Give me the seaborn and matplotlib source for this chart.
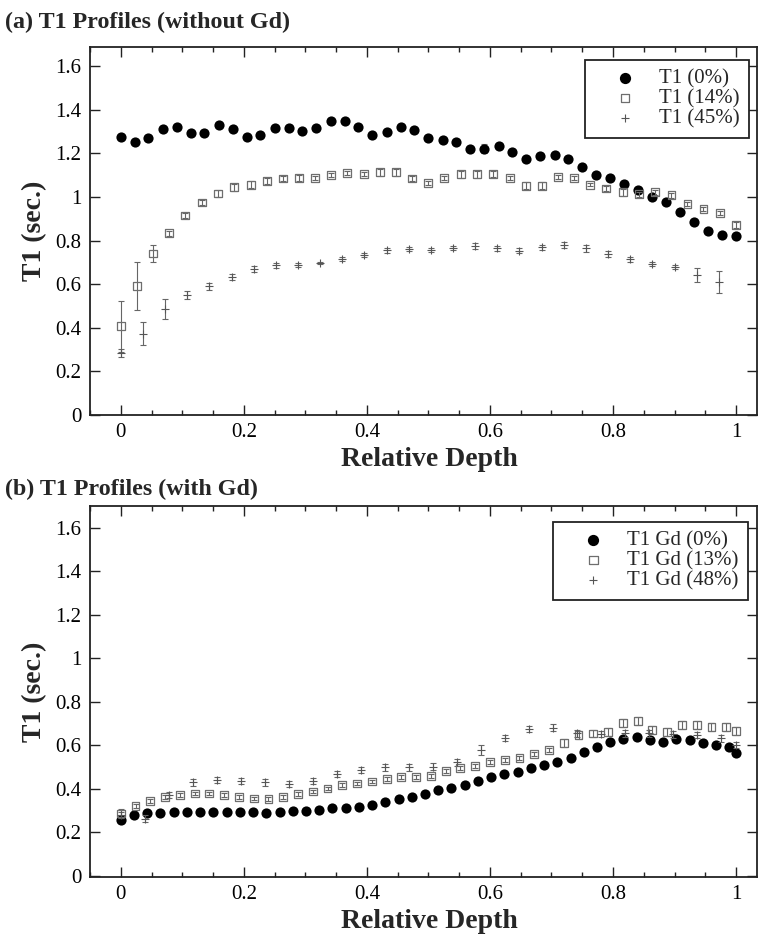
import numpy as np
import pandas as pd
import matplotlib
matplotlib.use("Agg")
import matplotlib.pyplot as plt
import seaborn as sns
from matplotlib.ticker import MultipleLocator

# ---------------- data: panel (a) without Gd ----------------
a0_depth = [0.0, 0.023, 0.045, 0.068, 0.091, 0.114, 0.136, 0.159, 0.182, 0.205, 0.227, 0.25,
            0.273, 0.295, 0.318, 0.341, 0.364, 0.386, 0.409, 0.432, 0.455, 0.477, 0.5, 0.523,
            0.545, 0.568, 0.591, 0.614, 0.636, 0.659, 0.682, 0.705, 0.727, 0.75, 0.773, 0.795,
            0.818, 0.841, 0.864, 0.886, 0.909, 0.932, 0.955, 0.977, 1.0]
a0_t1 = [1.274, 1.254, 1.269, 1.312, 1.320, 1.292, 1.295, 1.331, 1.311, 1.276, 1.286, 1.317,
         1.318, 1.302, 1.318, 1.349, 1.349, 1.323, 1.285, 1.297, 1.320, 1.308, 1.269, 1.263,
         1.254, 1.219, 1.222, 1.234, 1.208, 1.174, 1.186, 1.193, 1.174, 1.137, 1.102, 1.085,
         1.059, 1.031, 1.002, 0.976, 0.932, 0.883, 0.844, 0.827, 0.821]
a0_err = [0.005] * 26 + [0.022] + [0.005] * 18

a14_depth = [0.0, 0.026, 0.053, 0.079, 0.105, 0.132, 0.158, 0.184, 0.211, 0.237, 0.263, 0.289,
             0.316, 0.342, 0.368, 0.395, 0.421, 0.447, 0.474, 0.5, 0.526, 0.553, 0.579, 0.605,
             0.632, 0.658, 0.684, 0.711, 0.737, 0.763, 0.789, 0.816, 0.842, 0.868, 0.895, 0.921,
             0.947, 0.974, 1.0]
a14_t1 = [0.407, 0.591, 0.741, 0.833, 0.915, 0.975, 1.016, 1.044, 1.056, 1.073, 1.085, 1.087,
          1.088, 1.101, 1.110, 1.105, 1.114, 1.114, 1.085, 1.065, 1.088, 1.104, 1.104, 1.104,
          1.087, 1.051, 1.051, 1.093, 1.088, 1.056, 1.039, 1.021, 1.013, 1.021, 1.008, 0.967,
          0.944, 0.926, 0.872]
a14_err = [0.118, 0.111, 0.037, 0.012, 0.012, 0.012, 0.014, 0.016, 0.016, 0.013, 0.010, 0.013,
           0.008, 0.010, 0.010, 0.010, 0.016, 0.016, 0.010, 0.010, 0.010, 0.016, 0.016, 0.014,
           0.010, 0.016, 0.016, 0.010, 0.010, 0.006, 0.010, 0.016, 0.012, 0.012, 0.012, 0.008,
           0.008, 0.010, 0.012]

a45_depth = [0.0, 0.036, 0.072, 0.108, 0.144, 0.18, 0.216, 0.252, 0.288, 0.324, 0.36, 0.396,
             0.432, 0.468, 0.504, 0.54, 0.576, 0.612, 0.648, 0.684, 0.72, 0.756, 0.792, 0.828,
             0.864, 0.9, 0.936, 0.972]
a45_t1 = [0.284, 0.373, 0.487, 0.550, 0.591, 0.632, 0.669, 0.686, 0.688, 0.698, 0.717, 0.734,
          0.755, 0.760, 0.757, 0.767, 0.775, 0.764, 0.754, 0.770, 0.780, 0.764, 0.738, 0.714,
          0.694, 0.678, 0.642, 0.609]
a45_err = [0.020, 0.053, 0.045, 0.020, 0.016, 0.015, 0.013, 0.013, 0.010, 0.005, 0.010, 0.010,
           0.012, 0.010, 0.008, 0.008, 0.012, 0.012, 0.010, 0.012, 0.015, 0.015, 0.013, 0.010,
           0.010, 0.008, 0.030, 0.050]

# ---------------- data: panel (b) with Gd ----------------
b0_depth = [0.0, 0.0215, 0.043, 0.0645, 0.086, 0.1075, 0.129, 0.1505, 0.172, 0.1935, 0.215,
            0.2365, 0.258, 0.2795, 0.301, 0.3225, 0.344, 0.3655, 0.387, 0.4085, 0.43, 0.4515,
            0.473, 0.4945, 0.516, 0.5375, 0.559, 0.5805, 0.602, 0.6235, 0.645, 0.6665, 0.688,
            0.7095, 0.731, 0.7525, 0.774, 0.7955, 0.817, 0.8385, 0.86, 0.8815, 0.903, 0.9245,
            0.946, 0.9675, 0.989, 1.0]
b0_t1 = [0.256, 0.279, 0.288, 0.289, 0.292, 0.292, 0.292, 0.292, 0.292, 0.292, 0.292, 0.289,
         0.292, 0.297, 0.299, 0.303, 0.312, 0.312, 0.315, 0.326, 0.341, 0.354, 0.363, 0.377,
         0.395, 0.404, 0.418, 0.435, 0.453, 0.466, 0.475, 0.493, 0.507, 0.522, 0.542, 0.567,
         0.593, 0.613, 0.628, 0.637, 0.626, 0.617, 0.628, 0.626, 0.611, 0.600, 0.591, 0.562]

b13_depth = [0.0, 0.024, 0.048, 0.072, 0.096, 0.12, 0.144, 0.168, 0.192, 0.216, 0.24, 0.264,
             0.288, 0.312, 0.336, 0.36, 0.384, 0.408, 0.432, 0.456, 0.48, 0.504, 0.528, 0.552,
             0.576, 0.6, 0.624, 0.648, 0.672, 0.696, 0.72, 0.744, 0.768, 0.792, 0.816, 0.84,
             0.864, 0.888, 0.912, 0.936, 0.96, 0.984, 1.0]
b13_t1 = [0.286, 0.320, 0.345, 0.363, 0.371, 0.378, 0.378, 0.371, 0.361, 0.355, 0.352, 0.360,
          0.375, 0.387, 0.401, 0.417, 0.424, 0.433, 0.446, 0.452, 0.452, 0.459, 0.481, 0.495,
          0.504, 0.522, 0.531, 0.542, 0.560, 0.577, 0.609, 0.646, 0.654, 0.662, 0.703, 0.711,
          0.669, 0.662, 0.692, 0.692, 0.685, 0.685, 0.666]
b13_err = [0.020] + [0.009] * 29 + [0.018] * 13

b48_depth = [0.0, 0.039, 0.078, 0.117, 0.156, 0.195, 0.234, 0.273, 0.312, 0.351, 0.39, 0.429,
             0.468, 0.507, 0.546, 0.585, 0.624, 0.663, 0.702, 0.741, 0.78, 0.819, 0.858, 0.897,
             0.936, 0.975, 1.0]
b48_t1 = [0.280, 0.263, 0.371, 0.429, 0.440, 0.436, 0.429, 0.421, 0.436, 0.467, 0.485, 0.498,
          0.498, 0.501, 0.521, 0.577, 0.634, 0.674, 0.681, 0.654, 0.651, 0.654, 0.654, 0.650,
          0.646, 0.631, 0.600]
b48_err = [0.015] * 15 + [0.022] + [0.015] * 11

xticks = [0, 0.2, 0.4, 0.6, 0.8, 1.0]
xticklabels = ["0", "0.2", "0.4", "0.6", "0.8", "1"]
yticks = [0, 0.2, 0.4, 0.6, 0.8, 1.0, 1.2, 1.4, 1.6]
yticklabels = ["0", "0.2", "0.4", "0.6", "0.8", "1", "1.2", "1.4", "1.6"]

# ---------------- style ----------------
sns.set_theme(style="ticks")
plt.rcParams["font.family"] = ["Liberation Serif", "DejaVu Serif"]
plt.rcParams["mathtext.fontset"] = "stix"

W, H = 760, 935
fig = plt.figure(figsize=(W / 100, H / 100), dpi=100)

def px_axes(left, top, right, bottom):
    return fig.add_axes([left / W, 1 - bottom / H, (right - left) / W, (bottom - top) / H])

ax_a = px_axes(90, 47, 757, 415)
ax_b = px_axes(90, 506, 757, 877)

SQ_COL = "#6e6e6e"
PL_COL = "#555555"
ERR_COL = "#666666"

def draw_panel(ax, s0, s1, s2, labels):
    (x0, y0, e0), (x1, y1, e1), (x2, y2, e2) = s0, s1, s2
    d0 = pd.DataFrame({"depth": x0, "t1": y0})
    d1 = pd.DataFrame({"depth": x1, "t1": y1})
    d2 = pd.DataFrame({"depth": x2, "t1": y2})
    if e0 is not None:
        ax.errorbar(x0, y0, yerr=e0, fmt="none", ecolor=ERR_COL, elinewidth=0.8,
                    capsize=2.2, capthick=0.8, zorder=1)
    ax.errorbar(x1, y1, yerr=e1, fmt="none", ecolor=ERR_COL, elinewidth=0.8,
                capsize=2.2, capthick=0.8, zorder=3)
    ax.errorbar(x2, y2, yerr=e2, fmt="none", ecolor=ERR_COL, elinewidth=0.8,
                capsize=2.2, capthick=0.8, zorder=3)
    sns.scatterplot(data=d0, x="depth", y="t1", ax=ax, marker="o", s=54, color="black",
                    edgecolor="black", linewidth=0, label=labels[0], zorder=2)
    sns.scatterplot(data=d1, x="depth", y="t1", ax=ax, marker="s", s=32, facecolors="none",
                    edgecolor=SQ_COL, linewidth=0.9, label=labels[1], zorder=4)
    sns.scatterplot(data=d2, x="depth", y="t1", ax=ax, marker="+", s=30, color=PL_COL,
                    linewidth=0.8, label=labels[2], zorder=4)

    ax.set_xlim(-0.05, 1.034)
    ax.set_xticks(xticks)
    ax.set_xticklabels(xticklabels)
    ax.set_yticks(yticks)
    ax.set_yticklabels(yticklabels)
    ax.xaxis.set_minor_locator(MultipleLocator(0.05))
    ax.tick_params(which="both", direction="in", top=True, right=True, labelsize=15,
                   width=1.0, colors="#222222", labelcolor="black")
    ax.tick_params(which="major", length=7, pad=6)
    ax.tick_params(which="minor", length=3.5)
    for sp in ax.spines.values():
        sp.set_visible(True)
        sp.set_linewidth(1.3)
        sp.set_color("#222222")
    ax.set_xlabel("Relative Depth", fontsize=20, fontweight="bold", va="center")
    ax.set_ylabel("T1 (sec.)", fontsize=20, fontweight="bold", va="center")
    ax.grid(False)

draw_panel(ax_a, (a0_depth, a0_t1, a0_err), (a14_depth, a14_t1, a14_err),
           (a45_depth, a45_t1, a45_err), ["T1 (0%)", "T1 (14%)", "T1 (45%)"])
draw_panel(ax_b, (b0_depth, b0_t1, None), (b13_depth, b13_t1, b13_err),
           (b48_depth, b48_t1, b48_err), ["T1 Gd (0%)", "T1 Gd (13%)", "T1 Gd (48%)"])

ax_a.set_ylim(0, 1.688)
ax_b.set_ylim(-0.006, 1.70)

ax_a.xaxis.set_label_coords((429 - 90) / 667, (415 - 460) / 368)
ax_b.xaxis.set_label_coords((429 - 90) / 667, (877 - 922) / 371)
ax_a.yaxis.set_label_coords((35 - 90) / 667, 0.5)
ax_b.yaxis.set_label_coords((35 - 90) / 667, 0.5)

def make_legend(ax, anchor):
    leg = ax.legend(loc="upper right", bbox_to_anchor=anchor, frameon=True, fancybox=False,
                    shadow=False, framealpha=1, edgecolor="#222222", fontsize=15,
                    borderpad=0.45, labelspacing=0.0, handlelength=2.95, handletextpad=0.15,
                    borderaxespad=0, scatterpoints=1, markerscale=1.1)
    leg.get_frame().set_linewidth(1.3)
    return leg

make_legend(ax_a, ((749 - 90) / 667, (415 - 60) / 368))
make_legend(ax_b, ((748 - 90) / 667, (877 - 522) / 371))

fig.text(5 / W, 1 - 28 / H, "(a) T1 Profiles (without Gd)", fontsize=17.3, fontweight="bold",
         ha="left", va="baseline")
fig.text(5 / W, 1 - 495 / H, "(b) T1 Profiles (with Gd)", fontsize=17.3, fontweight="bold",
         ha="left", va="baseline")

fig.savefig("out.png", dpi=100, facecolor="white")
